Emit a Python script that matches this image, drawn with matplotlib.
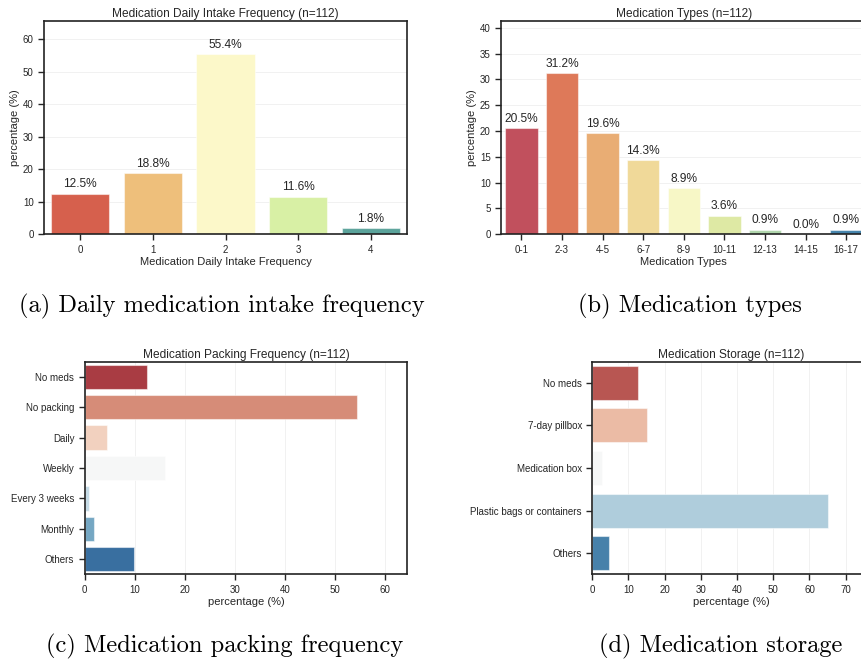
import matplotlib
matplotlib.use("Agg")
import matplotlib.pyplot as plt
import seaborn as sns
import numpy as np

sns.set_style("ticks")
plt.rcParams['font.family'] = ['Liberation Sans', 'DejaVu Sans']

# ---------------- data ----------------
intake_cats = ["0", "1", "2", "3", "4"]
intake_pct = [12.5, 18.8, 55.4, 11.6, 1.8]

types_cats = ["0-1", "2-3", "4-5", "6-7", "8-9", "10-11", "12-13", "14-15", "16-17"]
types_pct = [20.5, 31.2, 19.6, 14.3, 8.9, 3.6, 0.9, 0.0, 0.9]

packing_cats = ["No meds", "No packing", "Daily", "Weekly", "Every 3 weeks", "Monthly", "Others"]
packing_pct = [12.5, 54.5, 4.5, 16.1, 0.9, 1.8, 9.8]

storage_cats = ["No meds", "7-day pillbox", "Medication box", "Plastic bags or containers", "Others"]
storage_pct = [12.5, 15.2, 2.7, 65.2, 4.5]

captions = ["(a) Daily medication intake frequency", "(b) Medication types",
            "(c) Medication packing frequency", "(d) Medication storage"]

intake_colors = ["#d6604d", "#eebf7b", "#fcf8c9", "#d8f0a5", "#5ba39b"]

W, H = 861, 661
fig = plt.figure(figsize=(W / 100, H / 100), dpi=100)


def ax_px(left, top, right, bottom):
    return fig.add_axes([left / W, 1 - bottom / H, (right - left) / W, (bottom - top) / H])


TITLE_FS = 8.6
LABEL_FS = 8.0
TICK_FS = 7.0
ANN_FS = 8.6
TXT = "#262626"


def style(ax, grid_axis):
    for s in ax.spines.values():
        s.set_linewidth(1.2)
        s.set_color("#222222")
    ax.tick_params(labelsize=TICK_FS, length=4, width=1.0, colors=TXT, direction="out")
    ax.grid(axis=grid_axis, color="#e8e8e8", linewidth=0.6, alpha=0.7)
    ax.set_axisbelow(True)


def pal_colors(pal, n):
    if isinstance(pal, list):
        return pal
    return [sns.desaturate(c, 0.75) for c in sns.color_palette(pal, n)]


def vbars(ax, cats, vals, pal, ymax):
    cols = pal_colors(pal, len(cats))
    x = np.arange(len(cats))
    ax.bar(x, vals, width=0.8, color=cols, edgecolor=(1, 1, 1, 0.5), linewidth=0.8)
    for xi, v in zip(x, vals):
        ax.annotate(f"{v:.1f}%", (xi, v), xytext=(0, 2.5), textcoords="offset points",
                    ha="center", va="bottom", fontsize=ANN_FS, color=TXT)
    ax.set_xticks(x)
    ax.set_xticklabels(cats)
    ax.set_xlim(-0.5, len(cats) - 0.5)
    ax.set_ylim(0, ymax)


def hbars(ax, cats, vals, pal, xmax):
    cols = pal_colors(pal, len(cats))
    y = np.arange(len(cats))
    ax.barh(y, vals, height=0.8, color=cols, edgecolor=(1, 1, 1, 0.5), linewidth=0.8)
    ax.set_yticks(y)
    ax.set_yticklabels(cats)
    ax.set_ylim(len(cats) - 0.5, -0.5)
    ax.set_xlim(0, xmax)


# (a)
ax1 = ax_px(44, 21, 407, 234.3)
style(ax1, "y")
vbars(ax1, intake_cats, intake_pct, intake_colors, 65.6)
ax1.set_yticks([0, 10, 20, 30, 40, 50, 60])
ax1.set_title("Medication Daily Intake Frequency (n=112)", fontsize=TITLE_FS, color=TXT, pad=3)
ax1.set_xlabel("Medication Daily Intake Frequency", fontsize=LABEL_FS, color=TXT, labelpad=2)
ax1.set_ylabel("percentage (%)", fontsize=LABEL_FS, color=TXT, labelpad=2)

# (b)
ax2 = ax_px(501, 21, 866.5, 234.3)
style(ax2, "y")
vbars(ax2, types_cats, types_pct, "Spectral", 41.3)
ax2.set_yticks([0, 5, 10, 15, 20, 25, 30, 35, 40])
ax2.set_title("Medication Types (n=112)", fontsize=TITLE_FS, color=TXT, pad=3)
ax2.set_xlabel("Medication Types", fontsize=LABEL_FS, color=TXT, labelpad=2)
ax2.set_ylabel("percentage (%)", fontsize=LABEL_FS, color=TXT, labelpad=2)

# (c)
ax3 = ax_px(84.7, 361.7, 407.3, 574.3)
style(ax3, "x")
hbars(ax3, packing_cats, packing_pct, "RdBu", 64.5)
ax3.set_xticks([0, 10, 20, 30, 40, 50, 60])
ax3.set_title("Medication Packing Frequency (n=112)", fontsize=TITLE_FS, color=TXT, pad=3)
ax3.set_xlabel("percentage (%)", fontsize=LABEL_FS, color=TXT, labelpad=2)

# (d)
ax4 = ax_px(592.3, 361.7, 871, 574.3)
style(ax4, "x")
hbars(ax4, storage_cats, storage_pct, "RdBu", 77.0)
ax4.set_xticks([0, 10, 20, 30, 40, 50, 60, 70])
ax4.set_title("Medication Storage (n=112)", fontsize=TITLE_FS, color=TXT, pad=3)
ax4.set_xlabel("percentage (%)", fontsize=LABEL_FS, color=TXT, labelpad=2)

# captions
cap_pos = [(222, 306), (690, 306), (225, 646), (721, 646)]
for txt, (cx, cy) in zip(captions, cap_pos):
    fig.text(cx / W, 1 - cy / H, txt, ha="center", va="center", fontsize=17.6,
             family="cmr10", color="black")

fig.savefig("out.png", dpi=100)
